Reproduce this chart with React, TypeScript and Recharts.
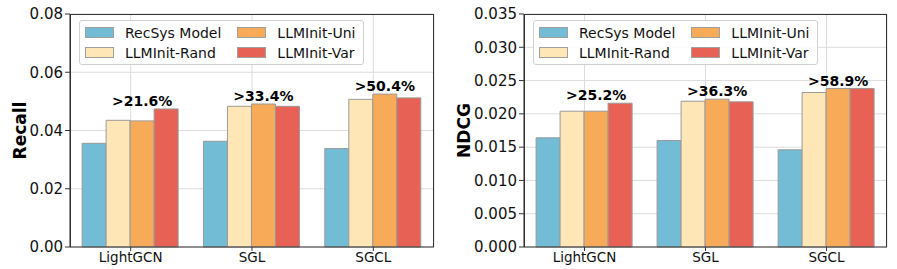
import { Bar, BarChart, CartesianGrid, LabelList, XAxis, YAxis } from "recharts";

const models = ["LightGCN", "SGL", "SGCL"];
const seriesNames = ["RecSys Model", "LLMInit-Rand", "LLMInit-Uni", "LLMInit-Var"];
const seriesColors = ["#72bcd5", "#ffe6b7", "#f7aa58", "#e76254"];

const recallBase = [0.0356, 0.0363, 0.0338];
const recallRand = [0.0435, 0.0483, 0.0507];
const recallUni = [0.0433, 0.0491, 0.0525];
const recallVar = [0.0474, 0.0483, 0.0512];
const recallGain = [">21.6%", ">33.4%", ">50.4%"];
const recallTicks = [0, 0.02, 0.04, 0.06, 0.08];

const ndcgBase = [0.0164, 0.016, 0.0146];
const ndcgRand = [0.0204, 0.0219, 0.0232];
const ndcgUni = [0.0204, 0.0222, 0.0238];
const ndcgVar = [0.0216, 0.0218, 0.0238];
const ndcgGain = [">25.2%", ">36.3%", ">58.9%"];
const ndcgTicks = [0, 0.005, 0.01, 0.015, 0.02, 0.025, 0.03, 0.035];

const FONT = "'DejaVu Sans', sans-serif";
const keys = ["base", "rand", "uni", "var"];
const H = 269;
const TOP = 14;
const XH = 22;

function buildRows(a: number[], b: number[], c: number[], d: number[], gain: string[]) {
  return models.map((m, i) => ({ name: m, base: a[i], rand: b[i], uni: c[i], var: d[i], gain: gain[i] }));
}

function LegendBox({ left }: { left: number }) {
  return (
    <div
      style={{
        position: "absolute",
        left,
        top: 20,
        display: "grid",
        gridTemplateColumns: "auto auto",
        columnGap: 16,
        rowGap: 3,
        border: "1px solid #d0d0d0",
        borderRadius: 3,
        background: "rgba(255,255,255,0.85)",
        padding: "3px 8px 3px 5px",
        fontFamily: FONT,
        fontSize: 14,
        color: "#111",
      }}
    >
      {[0, 2, 1, 3].map((i) => (
        <div key={i} style={{ display: "flex", alignItems: "center", height: 17 }}>
          <span
            style={{
              display: "inline-block",
              width: 27,
              height: 9,
              background: seriesColors[i],
              border: "1px solid #a0a0a0",
              marginRight: 11,
            }}
          />
          {seriesNames[i]}
        </div>
      ))}
    </div>
  );
}

function Panel({
  rows,
  ticks,
  max,
  digits,
  label,
  labelOffset,
  width,
  yWidth,
  right,
}: {
  rows: any[];
  ticks: number[];
  max: number;
  digits: number;
  label: string;
  labelOffset: number;
  width: number;
  yWidth: number;
  right: number;
}) {
  const gainLabel = (props: any) => {
    const { x, y, width: w, height: h, value, index } = props;
    const row = rows[index];
    const top = Math.max(row.base, row.rand, row.uni, row.var);
    const topY = y + h - (top * h) / value;
    return (
      <text
        x={x + w / 2}
        y={topY - 3}
        textAnchor="middle"
        fontFamily={FONT}
        fontWeight="bold"
        fontSize={14}
        fill="#000"
      >
        {row.gain}
      </text>
    );
  };

  return (
    <div style={{ position: "relative", width, height: H }}>
      <BarChart
        width={width}
        height={H}
        data={rows}
        margin={{ top: TOP, right, bottom: 0, left: 0 }}
        barCategoryGap="10%"
        barGap={0}
      >
        <CartesianGrid stroke="#dcdcdc" strokeWidth={1} />
        <XAxis
          dataKey="name"
          height={XH}
          stroke="#333"
          tickSize={4}
          tick={{ fontFamily: FONT, fontSize: 13.5, fill: "#111" }}
          tickMargin={1}
        />
        <YAxis
          domain={[0, max]}
          ticks={ticks}
          width={yWidth}
          stroke="#333"
          tickSize={5}
          tickMargin={2}
          interval={0}
          tickFormatter={(v: number) => v.toFixed(digits)}
          tick={{ fontFamily: FONT, fontSize: 15, fill: "#111" }}
          label={{
            value: label,
            angle: -90,
            position: "insideLeft",
            offset: labelOffset,
            style: { fontFamily: FONT, fontSize: 17, fontWeight: "bold", fill: "#000", textAnchor: "middle" },
          }}
        />
        {keys.map((k, i) => (
          <Bar
            key={k}
            dataKey={k}
            name={seriesNames[i]}
            fill={seriesColors[i]}
            stroke="#9a9a9a"
            strokeWidth={1}
            isAnimationActive={false}
          >
            {k === "uni" ? <LabelList dataKey="uni" content={gainLabel} /> : null}
          </Bar>
        ))}
      </BarChart>
      <div
        style={{
          position: "absolute",
          left: yWidth,
          top: TOP,
          width: width - yWidth - right,
          height: H - TOP - XH,
          boxSizing: "border-box",
          border: "1px solid #333",
          borderBottom: "none",
          pointerEvents: "none",
        }}
      />
      <LegendBox left={yWidth + 9} />
    </div>
  );
}

export default function App() {
  const recallRows = buildRows(recallBase, recallRand, recallUni, recallVar, recallGain);
  const ndcgRows = buildRows(ndcgBase, ndcgRand, ndcgUni, ndcgVar, ndcgGain);
  return (
    <div style={{ position: "absolute", left: 0, top: 0, display: "flex", background: "#fff" }}>
      <Panel rows={recallRows} ticks={recallTicks} max={0.08} digits={2} label="Recall" labelOffset={20} width={450} yWidth={70} right={16} />
      <Panel rows={ndcgRows} ticks={ndcgTicks} max={0.035} digits={3} label="NDCG" labelOffset={14} width={447} yWidth={74} right={10} />
    </div>
  );
}
